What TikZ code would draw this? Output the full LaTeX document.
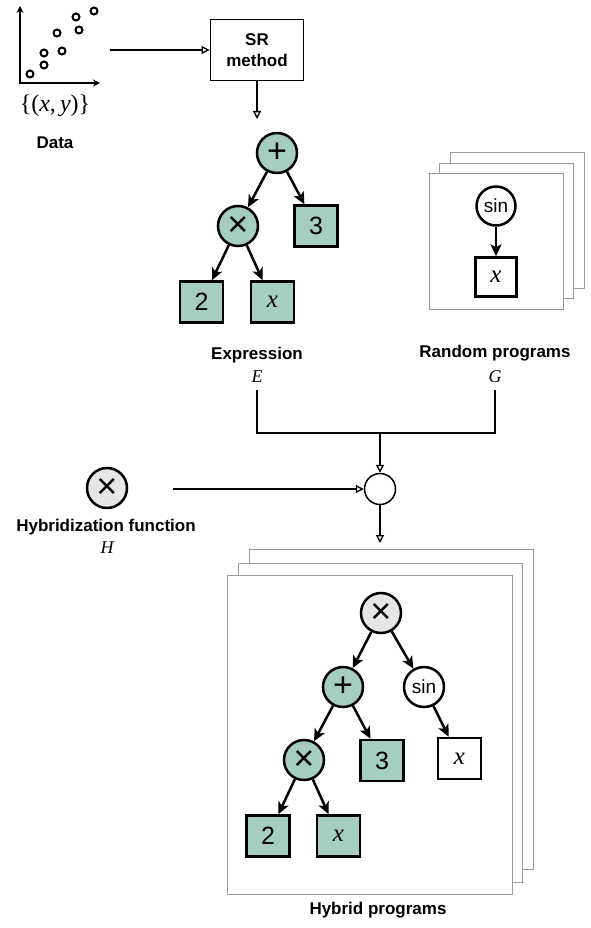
\documentclass[tikz,border=0pt]{standalone}
\usepackage{fontspec}
\setmainfont{Liberation Sans}
\newfontfamily\mserif{Liberation Serif}
\newcommand{\mv}[1]{{\mserif\itshape #1}}
\usetikzlibrary{arrows.meta}
\definecolor{tgreen}{RGB}{166,206,191}
\definecolor{hgray}{RGB}{230,230,230}
\definecolor{stackgray}{RGB}{155,155,155}
\begin{document}
\begin{tikzpicture}[x=1pt,y=-1pt,
  lbl/.style={font=\fontsize{17}{20}\selectfont\bfseries, inner sep=0pt},
  mathlbl/.style={font=\fontsize{18}{20}\selectfont, inner sep=0pt},
  opnode/.style={circle, draw, line width=2.5pt, minimum size=40pt, inner sep=0pt},
  leaf/.style={rectangle, draw, line width=2.5pt, minimum width=43pt, minimum height=41pt, inner sep=0pt, font=\fontsize{25}{25}\selectfont},
  gr/.style={fill=tgreen},
  plusf/.style={font=\fontsize{34}{34}\selectfont},
  timesf/.style={font=\fontsize{36}{36}\selectfont},
  sinf/.style={font=\fontsize{19}{20}\selectfont},
  xf/.style={font=\fontsize{25}{25}\selectfont},
  tedge/.style={line width=2.5pt, -{Stealth[length=12pt,width=11pt,inset=3pt]}},
  flow/.style={line width=1.4pt, -{Triangle[open,length=8pt,width=8pt,line width=1.3pt]}},
  plain/.style={line width=1.4pt},
  stack/.style={draw=stackgray, line width=1pt, fill=white},
  dot/.style={circle, draw, line width=2pt, minimum size=7pt, inner sep=0pt},
]
\useasboundingbox (0,0) rectangle (590,928);

% ---------- Data plot ----------
\draw[line width=2.2pt, {Stealth[length=7pt,width=7pt]}-{Stealth[length=7pt,width=7pt]}] (20,6) -- (20,83) -- (100,83);
\foreach \px/\py [count=\i] in {30/74,44/65,44/53,62/51,57/33,76/17,79/30,94/11}
  \node[dot] (d\i) at (\px,\py) {};
\node[inner sep=0pt, font=\fontsize{24}{26}\selectfont] (pairs) at (55,106) {\mserif\{(\mv{x},\,\mv{y})\}};
\node[lbl] (datalbl) at (55,143) {Data};

% ---------- SR method ----------
\node[draw, line width=1.7pt, minimum width=93pt, minimum height=61pt, align=center,
      font=\fontsize{17}{21}\selectfont\bfseries] (sr) at (257,50) {SR\\method};
\coordinate (dataout) at (110,50);
\coordinate (srout) at (257,119);
\draw[flow] (dataout) -- (sr.west);
\draw[flow] (sr.south) -- (srout);

% ---------- Expression tree ----------
\node[opnode, gr, plusf] (p1) at (277,153) {+};
\node[opnode, gr, timesf] (t1) at (238,226) {×};
\node[leaf, gr] (c1) at (316,226) {3};
\node[leaf, gr] (n1) at (201.5,302) {2};
\node[leaf, gr, xf] (x1) at (272.5,302) {\mv{x}};
\draw[tedge] (p1) -- (t1);
\draw[tedge] (p1) -- (c1);
\draw[tedge] (t1) -- (n1);
\draw[tedge] (t1) -- (x1);
\node[lbl] (exprlbl) at (257,355) {Expression};
\node[mathlbl] (elbl) at (257,377) {\mv{E}};

% ---------- Random programs ----------
\draw[stack] (450,153) rectangle (584,288);
\draw[stack] (439,164) rectangle (573,298);
\draw[stack] (429,174) rectangle (563,309);
\node[opnode, sinf, minimum size=39pt] (rs) at (496,206) {sin};
\node[leaf, xf, minimum width=41pt, minimum height=39pt] (rx) at (496,277) {\mv{x}};
\draw[tedge] (rs) -- (rx);
\node[lbl] (randlbl) at (495,353) {Random programs};
\node[mathlbl] (glbl) at (495,377) {\mv{G}};

% ---------- Merge ----------
\coordinate (etop) at (257,390);
\coordinate (gtop) at (495,390);
\coordinate (ecorner) at (257,433);
\coordinate (gcorner) at (495,433);
\coordinate (mjoin) at (380,433);
\node[circle, draw, line width=1.5pt, minimum size=31pt, inner sep=0pt] (junc) at (380,489) {};
\draw[plain] (etop) -- (ecorner) -- (mjoin);
\draw[plain] (gtop) -- (gcorner) -- (mjoin);
\draw[flow] (mjoin) -- (junc.north);

\node[opnode, fill=hgray, timesf] (hfun) at (107,488) {×};
\node[lbl] (hlbl) at (106,527) {Hybridization function};
\node[mathlbl] (hmath) at (107,548) {\mv{H}};
\coordinate (hout) at (173,489);
\draw[flow] (hout) -- (junc.west);
\coordinate (jout) at (380,543);
\draw[flow] (junc.south) -- (jout);

% ---------- Hybrid programs ----------
\draw[stack] (249,549) rectangle (533,869);
\draw[stack] (238,563) rectangle (522,882);
\draw[stack] (227,575) rectangle (512,894);
\node[opnode, fill=hgray, timesf] (hr) at (381,613) {×};
\node[opnode, gr, plusf] (hp) at (343,687) {+};
\node[opnode, fill=white, sinf] (hs) at (424,687) {sin};
\node[opnode, gr, timesf] (ht) at (304,760) {×};
\node[leaf, gr] (h3) at (382,760.5) {3};
\node[leaf, fill=white, xf] (hx2) at (459.5,758.5) {\mv{x}};
\node[leaf, gr] (h2) at (268,836) {2};
\node[leaf, gr, xf] (hx) at (338.5,836) {\mv{x}};
\draw[tedge] (hr) -- (hp);
\draw[tedge] (hr) -- (hs);
\draw[tedge] (hp) -- (ht);
\draw[tedge] (hp) -- (h3);
\draw[tedge] (hs) -- (hx2);
\draw[tedge] (ht) -- (h2);
\draw[tedge] (ht) -- (hx);
\node[lbl] (hyblbl) at (378,910) {Hybrid programs};
\end{tikzpicture}
\end{document}
